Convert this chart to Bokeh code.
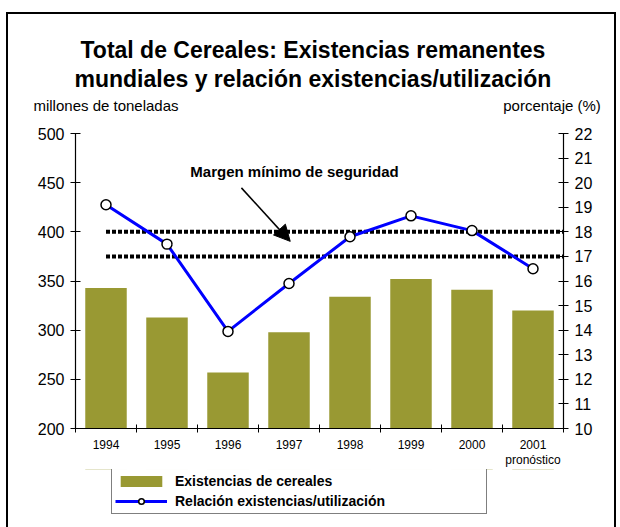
from bokeh.plotting import figure
from bokeh.layouts import column
from bokeh.models import (Range1d, LinearAxis, FixedTicker, Label, Arrow, NormalHead,
                          Legend, LegendItem, Title)
from bokeh.embed import file_html
from bokeh.resources import INLINE

years = ["1994", "1995", "1996", "1997", "1998", "1999", "2000", "2001"]
forecast_note = {7.5: "pronóstico"}
stocks = [343, 313, 257, 298, 334, 352, 341, 320]          # millones de toneladas
ratio = [19.1, 17.5, 13.95, 15.9, 17.8, 18.65, 18.05, 16.5]  # porcentaje
safety_margin = [17, 18]
left_ticks = [200, 250, 300, 350, 400, 450, 500]
right_ticks = list(range(10, 23))
captions = {0.5: "millones de toneladas", 7.8125: "porcentaje (%)"}
series_names = ["Existencias de cereales", "Relación existencias/utilización"]

FONT = "Liberation Sans"
BAR = "#999933"
LINE = "#0000FF"
xpos = [i + 0.5 for i in range(len(years))]
W = 606

# ---------------- main chart ----------------
p = figure(width=W, height=455, x_range=Range1d(0, 8), y_range=Range1d(200, 500),
           output_backend="svg", toolbar_location=None, title_location=None,
           min_border_left=67, min_border_right=51, min_border_top=119, min_border_bottom=38)
p.extra_y_ranges = {"pct": Range1d(10, 22)}
p.outline_line_color = None
p.xgrid.visible = False
p.ygrid.visible = False

# x axis: year labels at centers, tick marks (minor ticks) at category boundaries
xa = p.xaxis[0]
xa.ticker = FixedTicker(ticks=xpos, minor_ticks=list(range(len(years) + 1)))
xa.major_label_overrides = {x: y for x, y in zip(xpos, years)}
xa.major_tick_line_color = None
xa.minor_tick_in = 4
xa.minor_tick_out = 4
xa.minor_tick_line_color = "black"
xa.axis_line_color = "black"
xa.axis_line_width = 1.2
xa.major_label_standoff = 5
xa.major_label_text_font = FONT
xa.major_label_text_font_size = "12px"
xa.major_label_text_color = "black"

xn = LinearAxis(ticker=FixedTicker(ticks=list(forecast_note.keys())),
                major_label_overrides=forecast_note)
xn.axis_line_color = None
xn.major_tick_line_color = None
xn.minor_tick_line_color = None
xn.major_tick_out = 0
xn.major_tick_in = 0
xn.major_label_standoff = 1
xn.major_label_text_font = FONT
xn.major_label_text_font_size = "12px"
xn.major_label_text_color = "black"
p.add_layout(xn, "below")

ya = p.yaxis[0]
ya.ticker = FixedTicker(ticks=left_ticks)
ya.major_tick_in = 5
ya.major_tick_out = 5
ya.minor_tick_line_color = None
ya.major_label_text_font = FONT
ya.major_label_text_font_size = "16px"
ya.major_label_text_color = "black"
ya.major_label_standoff = 6
ya.axis_line_width = 1.2

yr = LinearAxis(y_range_name="pct", ticker=FixedTicker(ticks=right_ticks))
yr.major_tick_in = 5
yr.major_tick_out = 5
yr.minor_tick_line_color = None
yr.major_label_text_font = FONT
yr.major_label_text_font_size = "16px"
yr.major_label_text_color = "black"
yr.major_label_standoff = 6
yr.axis_line_width = 1.2
p.add_layout(yr, "right")

# axis captions above the frame
cap = LinearAxis(ticker=FixedTicker(ticks=list(captions.keys())), major_label_overrides=captions)
cap.axis_line_color = None
cap.major_tick_line_color = None
cap.minor_tick_line_color = None
cap.major_tick_out = 0
cap.major_tick_in = 0
cap.major_label_standoff = 20
cap.major_label_text_font = FONT
cap.major_label_text_font_size = "15px"
cap.major_label_text_color = "black"
p.add_layout(cap, "above")

# two-line title
p.add_layout(Title(text="mundiales y relación existencias/utilización", align="left",
                   offset=-1, standoff=4, text_font=FONT, text_font_style="bold",
                   text_font_size="23px", text_color="black"), "above")
p.add_layout(Title(text="Total de Cereales: Existencias remanentes", align="left",
                   offset=5, standoff=-3, text_font=FONT, text_font_style="bold",
                   text_font_size="23px", text_color="black"), "above")

p.vbar(x=xpos, top=stocks, bottom=200, width=0.68, fill_color=BAR, line_color=None)

p.segment(x0=[xpos[0]] * 2, x1=[8] * 2, y0=safety_margin, y1=safety_margin, y_range_name="pct",
          line_color="black", line_width=4, line_dash="4 2")

p.line(xpos, ratio, y_range_name="pct", line_color=LINE, line_width=3)
p.scatter(xpos, ratio, y_range_name="pct", size=10, fill_color="white",
          line_color="black", line_width=1.5)

p.add_layout(Arrow(x_start=2.72, y_start=444.7, x_end=3.52, y_end=390.3,
                   line_color="black", line_width=1.5,
                   end=NormalHead(size=16, fill_color="black", line_color="black")))

p.add_layout(Label(x=3.59, y=461.8, text="Margen mínimo de seguridad", text_align="center",
                   text_baseline="middle", text_font=FONT, text_font_style="bold",
                   text_font_size="15px", text_color="black"))

# ---------------- legend strip below the chart ----------------
lf = figure(width=W, height=58, x_range=Range1d(0, 8), y_range=Range1d(0, 1),
            x_axis_type=None, y_axis_type=None, output_backend="svg", toolbar_location=None,
            title_location=None, min_border_left=67, min_border_right=51,
            min_border_top=0, min_border_bottom=0)
lf.outline_line_color = None
lf.grid.visible = False
# same series drawn on an out-of-view range: they only supply the legend swatches
lb = lf.vbar(x=xpos, top=stocks, bottom=200, width=0.68, fill_color=BAR, line_color=None)
ll = lf.line(xpos, ratio, line_color=LINE, line_width=3)
lm = lf.scatter(xpos, ratio, size=10, fill_color="white", line_color="black", line_width=1.5)

legend = Legend(items=[LegendItem(label=series_names[0], renderers=[lb]),
                       LegendItem(label=series_names[1], renderers=[ll, lm])],
                location=(36, 13), orientation="vertical")
legend.border_line_color = "black"
legend.border_line_width = 1
legend.padding = 3
legend.spacing = 2
legend.margin = 0
legend.glyph_width = 52
legend.glyph_height = 14
legend.label_height = 18
legend.label_width = 308
legend.label_standoff = 8
legend.label_text_font = FONT
legend.label_text_font_style = "bold"
legend.label_text_font_size = "14px"
legend.label_text_color = "black"
lf.add_layout(legend, "center")

layout = column(p, lf, styles={"margin-left": "6px", "margin-top": "12px",
                               "border-left": "2px solid black", "border-top": "2px solid black",
                               "border-right": "2px solid black"})

open("out.html", "w").write(file_html(layout, INLINE))
